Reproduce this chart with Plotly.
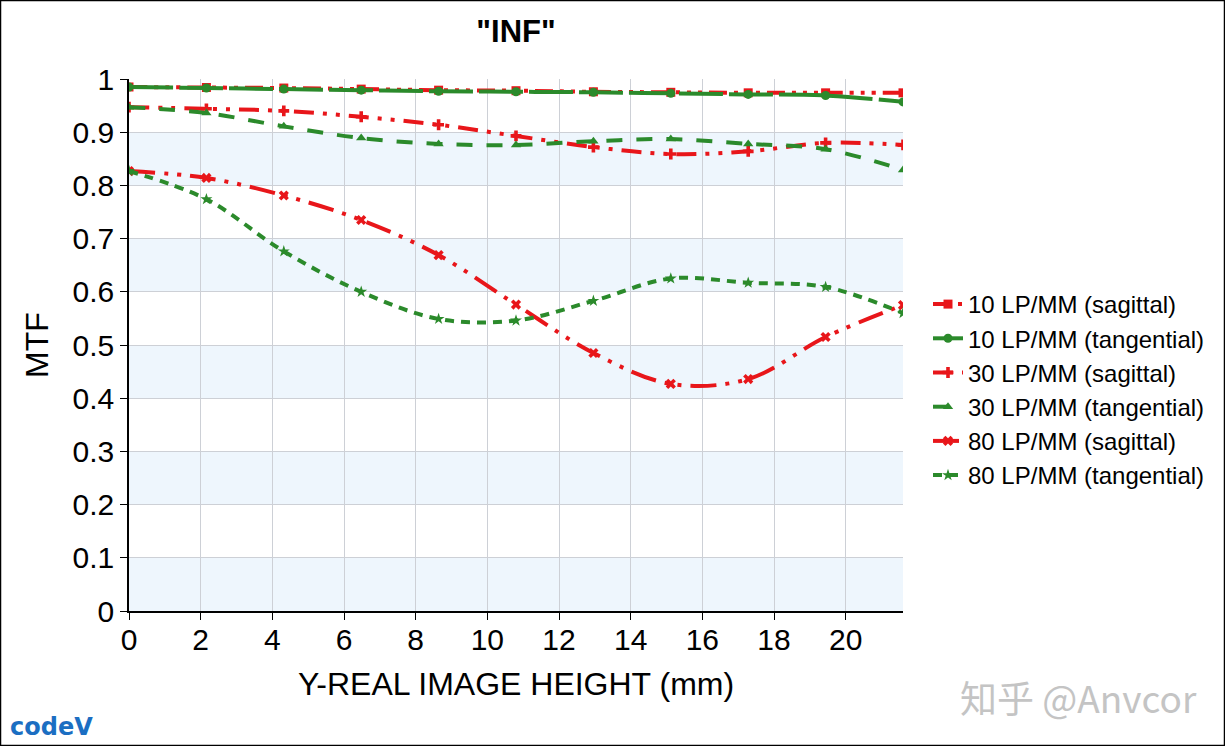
import plotly.graph_objects as go

# field heights (mm) where CODE V sampled the MTF
field_mm = [0, 2.16, 4.32, 6.48, 8.64, 10.8, 12.96, 15.12, 17.28, 19.44, 21.6]

mtf_10_sag = [0.985, 0.984, 0.983, 0.981, 0.979, 0.978, 0.976, 0.975, 0.974, 0.974, 0.974]
mtf_10_tan = [0.985, 0.983, 0.981, 0.979, 0.977, 0.976, 0.975, 0.973, 0.971, 0.969, 0.957]
mtf_30_sag = [0.947, 0.944, 0.940, 0.929, 0.914, 0.893, 0.872, 0.859, 0.864, 0.880, 0.876]
mtf_30_tan = [0.947, 0.936, 0.911, 0.889, 0.878, 0.876, 0.883, 0.887, 0.878, 0.868, 0.829]
mtf_80_sag = [0.827, 0.814, 0.781, 0.735, 0.669, 0.576, 0.485, 0.427, 0.436, 0.515, 0.575]
mtf_80_tan = [0.827, 0.774, 0.676, 0.600, 0.549, 0.546, 0.583, 0.625, 0.617, 0.609, 0.560]

x_ticks = list(range(0, 21, 2))
y_ticks = [round(i * 0.1, 1) for i in range(11)]
y_labels = ["0", "0.1", "0.2", "0.3", "0.4", "0.5", "0.6", "0.7", "0.8", "0.9", "1"]
bands = [(0.0, 0.1), (0.2, 0.3), (0.4, 0.5), (0.6, 0.7), (0.8, 0.9)]

RED = "#e8161a"
GREEN = "#2b8a2b"

series = [
    ("10 LP/MM (sagittal)", mtf_10_sag, RED, "square", "18px,7px,4px,7px,4px,7px,4px,7px"),
    ("10 LP/MM (tangential)", mtf_10_tan, GREEN, "circle", "44px,6px"),
    ("30 LP/MM (sagittal)", mtf_30_sag, RED, "cross", "20px,9px,4px,9px,4px,9px"),
    ("30 LP/MM (tangential)", mtf_30_tan, GREEN, "triangle-up", "16px,14px"),
    ("80 LP/MM (sagittal)", mtf_80_sag, RED, "x", "26px,9px,4px,9px,4px,9px"),
    ("80 LP/MM (tangential)", mtf_80_tan, GREEN, "star", "9px,7px"),
]

fig = go.Figure()
for name, vals, col, sym, dash in series:
    fig.add_trace(go.Scatter(
        x=field_mm, y=vals, name=name, mode="lines+markers",
        line=dict(color=col, width=4, dash=dash, shape="spline", smoothing=1),
        marker=dict(color=col, symbol=sym, size=9),
    ))

# alternating light blue bands
for lo, hi in bands:
    fig.add_shape(type="rect", xref="paper", yref="y", x0=0, x1=1, y0=lo, y1=hi,
                  fillcolor="#eef6fd", line_width=0, layer="below")

# frame around whole picture
pw, ph = 774, 532
fig.add_shape(type="rect", xref="paper", yref="paper",
              x0=(0.5 - 129) / pw, x1=(1224.5 - 129) / pw,
              y0=(611 - 745.5) / ph, y1=(611 - 0.5) / ph,
              line=dict(color="black", width=1.5))

fig.add_annotation(text="知乎 @Anvcor", xref="paper", yref="paper",
                   x=(1078 - 129) / pw, y=(611 - 697) / ph, showarrow=False,
                   xanchor="center", yanchor="middle",
                   font=dict(family="Noto Sans CJK SC", size=37, color="#c4c4c4"))
fig.add_annotation(text="<b>codeV</b>", xref="paper", yref="paper",
                   x=(51 - 129) / pw, y=(611 - 727) / ph, showarrow=False,
                   xanchor="center", yanchor="middle",
                   font=dict(family="DejaVu Sans", size=24, color="#1b6ec2"))

fig.update_layout(
    width=1225, height=746,
    margin=dict(l=129, r=322, t=79, b=135),
    paper_bgcolor="white", plot_bgcolor="white",
    font=dict(family="Liberation Sans, Arial", color="black"),
    title=dict(text='<b>"INF"</b>', x=0.5, xref="paper", y=0.958,
               xanchor="center", yanchor="middle", font=dict(size=31)),
    showlegend=True,
    legend=dict(x=(928 - 129) / pw, y=(611 - 390) / ph, xanchor="left", yanchor="middle",
                font=dict(size=24), itemwidth=30, tracegroupgap=0),
    xaxis=dict(range=[0, 21.6], tickvals=x_ticks, showgrid=True, gridcolor="#cdd0d6",
               showline=True, linecolor="black", linewidth=1.5, ticks="outside",
               ticklen=7, tickcolor="black", tickfont=dict(size=30), ticklabelstandoff=-6,
               title=dict(text="Y-REAL IMAGE HEIGHT (mm)", font=dict(size=32), standoff=18),
               zeroline=False),
    yaxis=dict(range=[0, 1], tickvals=y_ticks, ticktext=y_labels, showgrid=True,
               gridcolor="#cdd0d6", showline=True, linecolor="black", linewidth=1.5,
               ticks="outside", ticklen=7, tickcolor="black", tickfont=dict(size=30),
               title=dict(text="MTF", font=dict(size=32), standoff=14), zeroline=False),
)

fig.write_html("out.html", config={"displayModeBar": False},
               post_script="document.body.style.margin='0px';")
